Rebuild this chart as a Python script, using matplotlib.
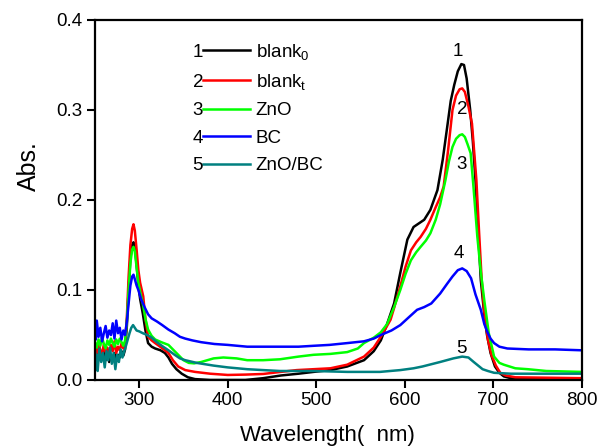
import matplotlib
matplotlib.use("Agg")
import matplotlib.pyplot as plt

plt.rcParams['font.family'] = ['Liberation Sans', 'DejaVu Sans']
plt.rcParams['mathtext.fontset'] = 'custom'
plt.rcParams['mathtext.rm'] = 'Liberation Sans'
plt.rcParams['mathtext.default'] = 'regular'

# ---------------- data ----------------
series_names = [r'blank$_0$', r'blank$_t$', 'ZnO', 'BC', 'ZnO/BC']
series_colors = ['#000000', '#FF0000', '#00FF00', '#0000FF', '#008080']
curve_numbers = ['1', '2', '3', '4', '5']

wl_blank0 = [250, 252, 254, 256, 258, 260, 262, 264, 266, 268, 270, 272, 274, 276, 278, 280, 282, 284,
             286, 288, 290, 292, 293.5, 295, 297, 299, 301, 304, 307, 310, 314, 318, 324, 329, 333, 337,
             342, 348, 355, 363, 380, 400, 420, 440, 460, 480, 497, 516, 535, 554, 565, 573, 580, 588,
             595, 603, 610, 616, 622, 629, 637, 643, 648, 652, 656, 660, 664, 667, 670, 674, 677, 680,
             683, 686, 690, 693, 697, 702, 707, 712, 720, 740, 800]
abs_blank0 = [0.030, 0.036, 0.026, 0.033, 0.024, 0.031, 0.022, 0.029, 0.020, 0.027, 0.023, 0.030, 0.021,
              0.028, 0.025, 0.032, 0.027, 0.034, 0.060, 0.100, 0.135, 0.150, 0.153, 0.148, 0.128, 0.105,
              0.090, 0.074, 0.055, 0.041, 0.037, 0.035, 0.033, 0.030, 0.025, 0.018, 0.012, 0.007, 0.003,
              0.001, 0.000, 0.000, 0.000, 0.002, 0.005, 0.007, 0.009, 0.011, 0.015, 0.022, 0.032, 0.044,
              0.062, 0.085, 0.119, 0.156, 0.170, 0.174, 0.178, 0.189, 0.211, 0.245, 0.281, 0.310, 0.328,
              0.343, 0.351, 0.350, 0.335, 0.300, 0.265, 0.222, 0.165, 0.111, 0.072, 0.050, 0.030, 0.015,
              0.008, 0.004, 0.002, 0.001, 0.001]

wl_blankt = [250, 252, 254, 256, 258, 260, 262, 264, 266, 268, 270, 272, 274, 276, 278, 280, 282, 284,
             286, 288, 290, 292, 293.5, 295, 297, 299, 301, 304.5, 307, 310, 314, 318, 325, 333, 338, 344,
             352, 363, 380, 400, 420, 440, 460, 478, 497, 516, 535, 554, 565, 573, 580, 584, 588, 595, 601,
             607, 613, 618, 624, 629, 635, 640, 644, 649, 654, 658, 662, 665, 668, 672, 676, 678, 681, 684,
             687, 690, 694, 698, 703, 708, 714, 725, 800]
abs_blankt = [0.038, 0.030, 0.042, 0.033, 0.028, 0.040, 0.031, 0.036, 0.027, 0.039, 0.032, 0.043, 0.030,
              0.037, 0.033, 0.041, 0.035, 0.040, 0.070, 0.115, 0.150, 0.168, 0.173, 0.166, 0.145, 0.122,
              0.108, 0.093, 0.068, 0.048, 0.044, 0.041, 0.036, 0.030, 0.022, 0.015, 0.011, 0.009, 0.007,
              0.0056, 0.006, 0.0067, 0.009, 0.011, 0.012, 0.013, 0.017, 0.026, 0.036, 0.048, 0.060, 0.067,
              0.080, 0.104, 0.126, 0.144, 0.153, 0.159, 0.168, 0.178, 0.192, 0.203, 0.215, 0.255, 0.300,
              0.316, 0.323, 0.324, 0.320, 0.304, 0.285, 0.260, 0.222, 0.165, 0.111, 0.075, 0.045, 0.028,
              0.016, 0.008, 0.005, 0.003, 0.002]

wl_zno = [250, 252, 254, 256, 258, 260, 262, 264, 266, 268, 270, 272, 274, 276, 278, 280, 282, 284,
          286, 288, 290, 292, 293.5, 295, 297, 299, 301, 304, 307, 310, 314, 318, 325, 333, 338, 344, 350,
          356, 362, 370, 384, 395, 410, 422, 440, 459, 480, 497, 516, 535, 547, 554, 565, 573, 580, 588,
          595, 601, 607, 613, 618, 624, 629, 635, 640, 646, 650, 654, 658, 662, 665, 668, 671, 674.5, 678,
          682, 686, 690, 695, 701, 707, 712, 725, 739, 760, 800]
abs_zno = [0.042, 0.036, 0.045, 0.038, 0.047, 0.040, 0.035, 0.044, 0.039, 0.046, 0.041, 0.037, 0.045,
           0.040, 0.046, 0.042, 0.038, 0.044, 0.065, 0.100, 0.130, 0.145, 0.148, 0.143, 0.125, 0.108, 0.098,
           0.085, 0.068, 0.056, 0.049, 0.045, 0.042, 0.039, 0.034, 0.028, 0.022, 0.019, 0.0185, 0.020,
           0.024, 0.025, 0.024, 0.022, 0.022, 0.023, 0.026, 0.028, 0.029, 0.031, 0.035, 0.041, 0.047,
           0.053, 0.062, 0.081, 0.100, 0.118, 0.133, 0.142, 0.148, 0.155, 0.163, 0.178, 0.195, 0.222,
           0.243, 0.259, 0.268, 0.272, 0.273, 0.270, 0.262, 0.252, 0.211, 0.160, 0.120, 0.088, 0.052,
           0.026, 0.019, 0.017, 0.013, 0.012, 0.010, 0.009]

wl_bc = [250, 251, 252, 254, 256, 258, 260, 262, 264, 266, 268, 270, 272, 274, 276, 278, 280, 282, 284,
         286, 288, 290, 292, 293.5, 295, 297, 299, 302, 306, 310, 314, 320, 326, 333, 340, 346, 352, 360,
         370, 385, 400, 422, 450, 480, 497, 515, 535, 554, 565, 573, 585, 595, 605, 614, 622, 630, 640,
         648, 654, 660, 665, 670, 675, 680, 686, 690, 694, 697, 701, 707, 716, 740, 770, 800]
abs_bc = [0.055, 0.045, 0.066, 0.048, 0.058, 0.043, 0.052, 0.060, 0.047, 0.055, 0.050, 0.063, 0.046,
          0.066, 0.052, 0.058, 0.045, 0.055, 0.050, 0.065, 0.085, 0.105, 0.115, 0.117, 0.112, 0.105, 0.100,
          0.090, 0.081, 0.073, 0.0685, 0.065, 0.061, 0.056, 0.052, 0.048, 0.046, 0.044, 0.042, 0.040,
          0.039, 0.037, 0.037, 0.037, 0.038, 0.039, 0.041, 0.043, 0.046, 0.050, 0.055, 0.061, 0.070,
          0.078, 0.081, 0.085, 0.096, 0.107, 0.115, 0.122, 0.124, 0.121, 0.113, 0.095, 0.078, 0.062,
          0.052, 0.046, 0.041, 0.037, 0.035, 0.034, 0.034, 0.033]

wl_znobc = [250, 251, 252, 253, 255, 257, 259, 261, 263, 265, 267, 269, 271, 273, 275, 277, 279, 281, 283,
            285, 287, 289, 291, 293, 295, 297, 300, 304, 309, 314, 320, 327, 333, 340, 346, 352, 365, 384,
            400, 422, 440, 459, 497, 535, 572, 595, 610, 620, 640, 655, 665, 672, 678, 683, 688, 694, 701,
            720, 760, 800]
abs_znobc = [0.032, 0.015, 0.028, 0.010, 0.035, 0.020, 0.030, 0.014, 0.032, 0.022, 0.036, 0.018, 0.030,
             0.012, 0.028, 0.020, 0.034, 0.025, 0.032, 0.038, 0.045, 0.052, 0.058, 0.061, 0.058, 0.055,
             0.054, 0.052, 0.050, 0.047, 0.042, 0.037, 0.033, 0.028, 0.024, 0.022, 0.019, 0.016, 0.014,
             0.012, 0.011, 0.010, 0.010, 0.009, 0.009, 0.011, 0.013, 0.015, 0.020, 0.024, 0.026, 0.025,
             0.020, 0.016, 0.012, 0.010, 0.008, 0.007, 0.007, 0.007]

# positions of the numbers written next to the peaks (wavelength, absorbance)
peak_label_wl = [660, 665, 664, 661, 664]
peak_label_abs = [0.365, 0.300, 0.239, 0.141, 0.035]

x_ticks = [300, 400, 500, 600, 700, 800]
y_ticks = [0.0, 0.1, 0.2, 0.3, 0.4]

# ---------------- figure ----------------
fig = plt.figure(figsize=(5.99, 4.47), dpi=100)
ax = fig.add_axes([0.1586, 0.1499, 0.8125, 0.8054])

all_wl = [wl_blank0, wl_blankt, wl_zno, wl_bc, wl_znobc]
all_abs = [abs_blank0, abs_blankt, abs_zno, abs_bc, abs_znobc]

handles = []
for wl, ab, c, name in zip(all_wl, all_abs, series_colors, series_names):
    h, = ax.plot(wl, ab, color=c, lw=1.8, label=name)
    handles.append(h)

for num, xw, ya in zip(curve_numbers, peak_label_wl, peak_label_abs):
    ax.text(xw, ya, num, fontsize=13.5, ha='center', va='center')

ax.set_xlim(250, 800)
ax.set_ylim(0, 0.4)
ax.set_xticks(x_ticks)
ax.set_yticks(y_ticks)
ax.set_yticklabels([f'{v:.1f}' for v in y_ticks])

for s in ax.spines.values():
    s.set_linewidth(1.6)
ax.tick_params(axis='both', which='major', direction='out', length=6, width=1.5,
               labelsize=13.5, pad=3)
ax.tick_params(top=False, right=False)

ax.set_xlabel('Wavelength(  nm)', fontsize=16)
ax.set_ylabel('Abs.', fontsize=18)
ax.xaxis.set_label_coords(0.478, -0.126)
ax.yaxis.set_label_coords(-0.112, 0.594)

leg = ax.legend(handles=handles, loc='upper left', bbox_to_anchor=(0.222, 0.94),
                frameon=False, fontsize=13.5, handlelength=2.5, handletextpad=0.3,
                labelspacing=0.55, borderpad=0, borderaxespad=0)

fig.canvas.draw()
renderer = fig.canvas.get_renderer()
for num, line in zip(curve_numbers, leg.get_lines()):
    bb = line.get_window_extent(renderer)
    xf, yf = fig.transFigure.inverted().transform((bb.x0, (bb.y0 + bb.y1) / 2))
    fig.text(xf, yf, num, fontsize=13.5, ha='right', va='center_baseline')

fig.savefig('out.png', dpi=100)
